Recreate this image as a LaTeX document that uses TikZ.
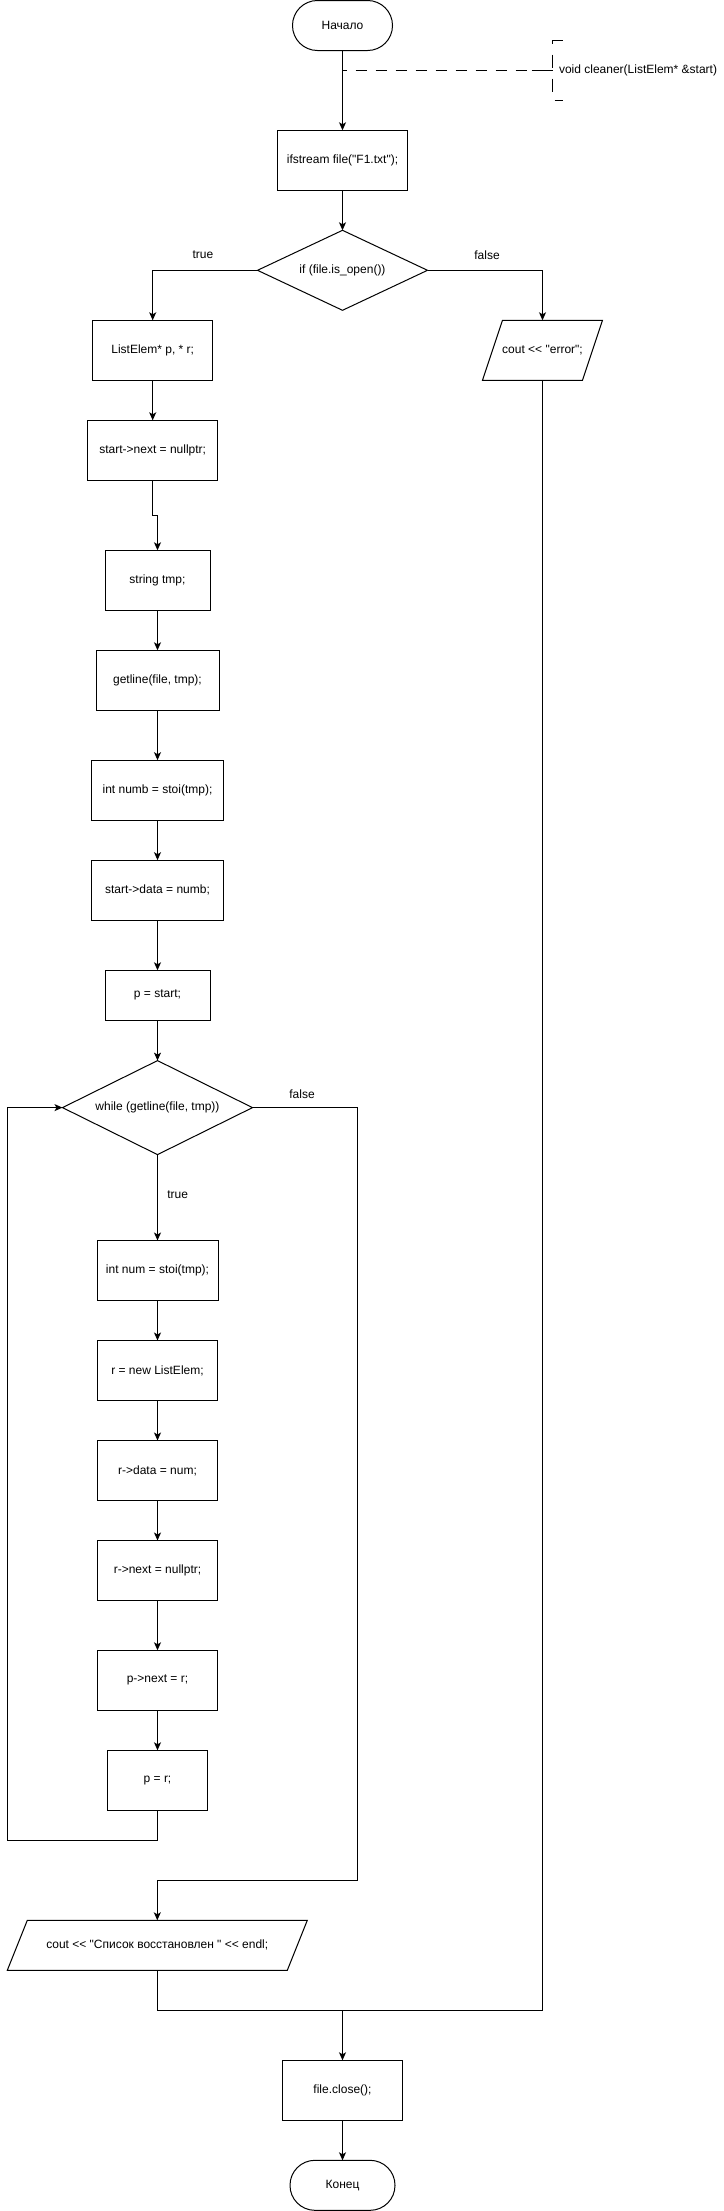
\documentclass[tikz,border=0pt]{standalone}
\usepackage{fontspec}
\newfontfamily\dfont{Liberation Sans}
\usetikzlibrary{arrows.meta,calc}
\begin{document}
\begin{tikzpicture}[x=1pt,y=-1pt,
  every node/.style={font=\dfont\fontsize{12}{14}\selectfont, inner sep=0pt, outer sep=0pt, text=black},
  wh/.style 2 args={minimum width=#1pt, minimum height=#2pt},
  ln/.style={draw=black, line width=1pt},
  box/.style={draw=black, line width=1pt, rectangle},
  term/.style={draw=black, line width=1pt, rectangle, rounded corners=24.9pt},
  arr/.style={ln, -{Stealth[length=8pt,width=7pt,inset=2pt]}},
  dashpat/.style={dash pattern=on 11pt off 9pt, dash phase=7pt},
  brkpat/.style={dash pattern=on 13pt off 11pt}]
\useasboundingbox (0,0) rectangle (723,2211);

% nodes
\node[term, wh={100}{50}] (start) at (342.5,25.5) {Начало};
\node[box, wh={130}{60}] (ifs) at (342.5,160.3) {ifstream file("F1.txt");};
\node[wh={170}{80}] (if) at (342.5,270.3) {if (file.is\_open())};
\draw[ln] (if.west) -- (if.north) -- (if.east) -- (if.south) -- cycle;
\node[box, wh={120}{60}] (le) at (152.7,350.3) {ListElem* p, * r;};
\node[wh={120}{60}] (err) at (542.5,350.3) {cout << "error";};
\draw[ln] (err.south west) -- ([xshift=20pt]err.north west) -- (err.north east) -- ([xshift=-20pt]err.south east) -- cycle;
\node[box, wh={130}{60}] (sn) at (152.7,450.3) {start->next = nullptr;};
\node[box, wh={105}{60}] (st) at (157.5,580.3) {string tmp;};
\node[box, wh={123}{60}] (gl) at (157.5,680.3) {getline(file, tmp);};
\node[box, wh={132}{60}] (inb) at (157.5,790.2) {int numb = stoi(tmp);};
\node[box, wh={132}{60}] (sd) at (157.5,890.2) {start->data = numb;};
\node[box, wh={105}{50}] (ps) at (157.5,995.3) {p = start;};
\node[wh={190}{94}] (wl) at (157.5,1107.6) {while (getline(file, tmp))};
\draw[ln] (wl.west) -- (wl.north) -- (wl.east) -- (wl.south) -- cycle;
\node[box, wh={121}{60}] (inum) at (157.5,1270.5) {int num = stoi(tmp);};
\node[box, wh={120}{60}] (rn) at (157.5,1370.5) {r = new ListElem;};
\node[box, wh={120}{60}] (rd) at (157.5,1470.5) {r->data = num;};
\node[box, wh={120}{60}] (rx) at (157.5,1570.5) {r->next = nullptr;};
\node[box, wh={120}{60}] (pn) at (157.5,1680.3) {p->next = r;};
\node[box, wh={100}{60}] (pr) at (157.5,1780.3) {p = r;};
\node[wh={300}{50}] (ls) at (157.3,1945.3) {cout << "Список восстановлен " << endl;};
\draw[ln] (ls.south west) -- ([xshift=20pt]ls.north west) -- (ls.north east) -- ([xshift=-20pt]ls.south east) -- cycle;
\node[box, wh={120}{60}] (cl) at (342.5,2090.3) {file.close();};
\node[term, wh={105}{50}] (en) at (342.5,2185.3) {Конец};

% labels
\node (t1) at (203,255) {true};
\node (f1) at (487,255) {false};
\node (f2) at (302,1094.6) {false};
\node (t2) at (177.6,1194.6) {true};

% annotation
\coordinate (ann) at (342.5,70.5);
\coordinate (brk) at (552.5,70.5);
\coordinate (ann2) at (531.7,70.5);
\draw[ln, dashpat] (ann) -- (ann2);
\draw[ln] (ann2) -- (brk);
\draw[ln, brkpat] ($(brk)+(10,-30)$) -- ($(brk)+(0,-30)$) -- ($(brk)+(0,30)$) -- ($(brk)+(10,30)$);
\node[anchor=west] (anntext) at ($(brk)+(6.5,0)$) {void cleaner(ListElem* \&start)};

% connectors
\draw[arr] (start.south) -- (ifs.north);
\draw[arr] (ifs.south) -- (if.north);
\draw[arr] (if.west) -| (le.north);
\draw[arr] (if.east) -| (err.north);
\draw[arr] (le.south) -- (sn.north);
\draw[arr] (sn.south) -- ++(0,35) -| (st.north);
\draw[arr] (st.south) -- (gl.north);
\draw[arr] (gl.south) -- (inb.north);
\draw[arr] (inb.south) -- (sd.north);
\draw[arr] (sd.south) -- (ps.north);
\draw[arr] (ps.south) -- (wl.north);
\draw[arr] (wl.south) -- (inum.north);
\draw[arr] (inum.south) -- (rn.north);
\draw[arr] (rn.south) -- (rd.north);
\draw[arr] (rd.south) -- (rx.north);
\draw[arr] (rx.south) -- (pn.north);
\draw[arr] (pn.south) -- (pr.north);
\coordinate (lp) at (7.5,1840.5);
\draw[arr] (pr.south) |- (lp) |- (wl.west);
\coordinate (fr) at (357.5,1880.3);
\draw[arr] (wl.east) -| (fr) -| (ls.north);
\coordinate (mg) at (342.5,2010.3);
\draw[arr] (ls.south) |- (mg) -- (cl.north);
\draw[ln] (err.south) |- (mg);
\draw[arr] (cl.south) -- (en.north);
\end{tikzpicture}
\end{document}
